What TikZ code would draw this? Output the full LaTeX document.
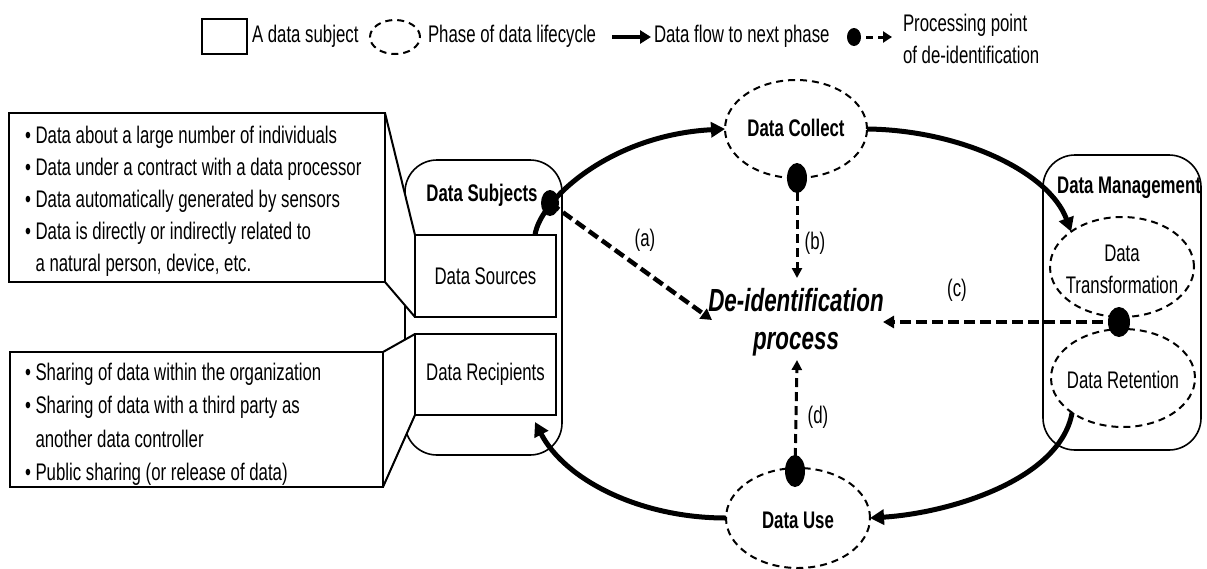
\documentclass[tikz,border=0pt]{standalone}
\usepackage{fontspec}
\setmainfont{Liberation Sans}[FakeStretch=0.7]
\usetikzlibrary{shapes.geometric,arrows.meta,calc}
\pgfdeclarelayer{bg}
\pgfsetlayers{bg,main}
\begin{document}
\begin{tikzpicture}[x=1pt,y=-1pt,
  every node/.style={inner sep=0pt, outer sep=0pt},
  txt/.style={font=\fontsize{24}{32}\selectfont},
  ttl/.style={font=\fontsize{24}{32}\selectfont\bfseries},
  phase/.style={ellipse, draw, line width=2pt, dash pattern=on 7pt off 5pt},
  subject/.style={draw, line width=1.6pt, rounded corners=32pt},
  itembox/.style={draw, fill=white, line width=2pt, minimum width=141pt,
    minimum height=82pt, font=\fontsize{24}{32}\selectfont},
  note/.style={draw, line width=2pt},
  pdot/.style={ellipse, fill=black},
  flow/.style={line width=5pt, -{Triangle[length=14pt,width=15pt]}},
  flowkey/.style={line width=4pt, -{Triangle[length=11pt,width=13pt]}},
  deid/.style={line width=4.5pt, dash pattern=on 11pt off 5pt,
    -{Triangle[length=11pt,width=12pt]}},
  deidthin/.style={line width=3pt, dash pattern=on 9pt off 5pt,
    -{Triangle[length=10pt,width=10pt]}},
  deidkey/.style={line width=3pt, dash pattern=on 7pt off 5pt,
    -{Triangle[length=9pt,width=11pt]}},
]
\useasboundingbox (0,0) rectangle (1207,568);

% ---------- key ----------
\node[draw, line width=1.6pt, minimum width=45pt, minimum height=35pt] (keysubj) at (224.5,36.5) {};
\node[txt, anchor=west] (keysubjtxt) at (252,36) {A data subject};
\node[phase, minimum width=50pt, minimum height=34pt] (keyphase) at (395,37) {};
\node[txt, anchor=west] (keyphasetxt) at (428,36) {Phase of data lifecycle};
\coordinate (keyflowA) at (612,37);
\coordinate (keyflowB) at (651,37);
\draw[flowkey] (keyflowA) -- (keyflowB);
\node[txt, anchor=west] (keyflowtxt) at (654,36) {Data flow to next phase};
\node[pdot, minimum width=14pt, minimum height=18pt] (keydot) at (854,37) {};
\coordinate (keydeidB) at (892,37);
\draw[deidkey] (keydot.center) -- (keydeidB);
\node[txt, anchor=west, align=left] (keydeidtxt) at (903,39) {Processing point\\of de-identification};

% ---------- data subjects ----------
\node[minimum width=157pt, minimum height=295pt] (subjects) at (483.5,307.5) {};
\node[itembox] (sources) at (485.5,276) {Data Sources};
\node[itembox, minimum height=81pt] (recip) at (485.5,374.5) {Data Recipients};
\node[ttl] (subjtitle) at (482,195) {Data Subjects};

% notes attached to the two boxes
\node[note, minimum width=376pt, minimum height=169pt] (srcnote) at (197,197.5) {};
\node[note, minimum width=373pt, minimum height=135pt] (recnote) at (196.5,419.5) {};

\begin{pgfonlayer}{bg}
  \draw[subject] (subjects.north west) rectangle (subjects.south east);
  \fill[white] (srcnote.north east) -- (sources.north west) -- (sources.south west) -- (srcnote.south east) -- cycle;
  \fill[white] (recnote.north east) -- (recip.north west) -- (recip.south west) -- (recnote.south east) -- cycle;
\end{pgfonlayer}
\draw[line width=2pt] (srcnote.north east) -- (sources.north west);
\draw[line width=2pt] (srcnote.south east) -- (sources.south west);
\draw[line width=2pt] (recnote.north east) -- (recip.north west);
\draw[line width=2pt] (recnote.south east) -- (recip.south west);

\node[font=\fontsize{24}{32}\selectfont, anchor=north west, align=left] (srcnotetxt)
  at ([shift={(16,13)}]srcnote.north west)
  {\textbullet\ Data about a large number of individuals\\
   \textbullet\ Data under a contract with a data processor\\
   \textbullet\ Data automatically generated by sensors\\
   \textbullet\ Data is directly or indirectly related to\\
   \hphantom{\textbullet\ }a natural person, device, etc.};
\node[font=\fontsize{24}{33.5}\selectfont, anchor=north west, align=left] (recnotetxt)
  at ([shift={(15,11)}]recnote.north west)
  {\textbullet\ Sharing of data within the organization\\
   \textbullet\ Sharing of data with a third party as\\
   \hphantom{\textbullet\ }another data controller\\
   \textbullet\ Public sharing (or release of data)};

% ---------- data management ----------
\node[subject, minimum width=158pt, minimum height=295pt] (mgmt) at (1122,302.5) {};
\node[ttl] (mgmttitle) at (1129,188) {Data Management};
\node[phase, minimum width=144pt, minimum height=100pt] (trans) at (1122,267) {};
\node[txt, align=center] (transtxt) at (1122,269) {Data\\Transformation};
\node[phase, minimum width=144pt, minimum height=98pt] (reten) at (1123,378) {};
\node[txt] (retentxt) at (1123,380) {Data Retention};

% ---------- lifecycle phases ----------
\node[phase, minimum width=142pt, minimum height=98pt] (collect) at (796,129) {};
\node[ttl] (collecttxt) at (796,128) {Data Collect};
\node[phase, minimum width=144pt, minimum height=100pt] (use) at (798,518) {};
\node[ttl] (usetxt) at (798,520) {Data Use};

% ---------- de-identification ----------
\node[font=\fontsize{32}{38}\selectfont\bfseries\itshape, align=center] (deid) at (796,322)
  {De-identification\\process};

% ---------- data flow ----------
\draw[flow] ([xshift=-21pt]sources.north east) .. controls +(5,-35) and +(-115,6) .. (collect.west);
\draw[flow] (collect.east) .. controls +(93,1) and +(-22,-60) .. (trans.north west);
\draw[flow] (reten.south west) .. controls +(-12,67) and +(80,-5) .. (use.east);
\draw[flow] (use.west) .. controls +(-86,0) and +(30,58) .. ([shift={(-21,7)}]recip.south east);

% ---------- processing points ----------
\node[pdot, minimum width=18pt, minimum height=26pt] (dotS) at (550,203) {};
\node[pdot, minimum width=20pt, minimum height=30pt] (dotC) at (797,178) {};
\node[pdot, minimum width=22pt, minimum height=30pt] (dotM) at (1119,322) {};
\node[pdot, minimum width=20pt, minimum height=32pt] (dotU) at (795,471) {};

\draw[deid] (dotS.center) -- ([shift={(-84,-2)}]deid.center);
\draw[deidthin] (dotC.center) -- ([shift={(1,-44)}]deid.center);
\draw[deid] (dotM.center) -- ([shift={(87,0)}]deid.center);
\draw[deidthin] (dotU.center) -- ([shift={(1,38)}]deid.center);

\node[txt] (la) at (645,240) {(a)};
\node[txt] (lb) at (815,243) {(b)};
\node[txt] (lc) at (957,290) {(c)};
\node[txt] (ld) at (818,417) {(d)};
\end{tikzpicture}
\end{document}
